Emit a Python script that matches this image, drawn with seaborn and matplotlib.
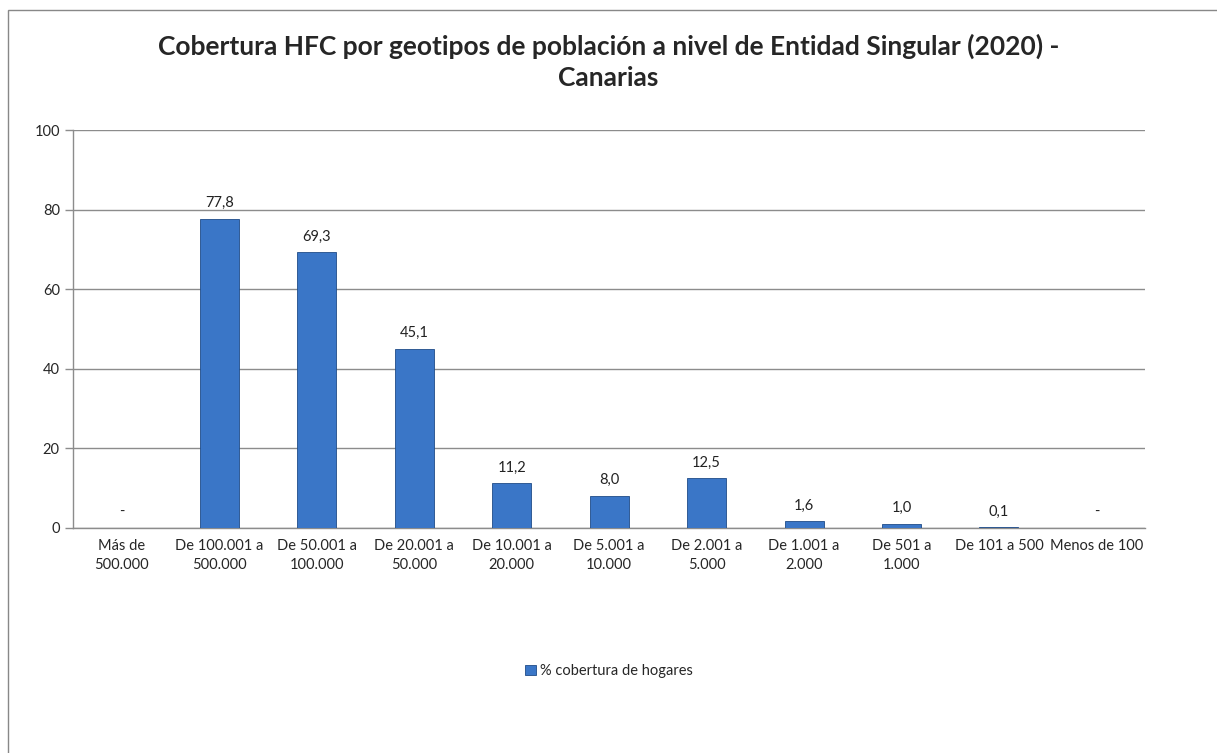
import numpy as np
import pandas as pd
import matplotlib
matplotlib.use("Agg")
import matplotlib.pyplot as plt
from matplotlib.patches import Rectangle
import seaborn as sns

categories = ["Más de\n500.000", "De 100.001 a\n500.000", "De 50.001 a\n100.000",
              "De 20.001 a\n50.000", "De 10.001 a\n20.000", "De 5.001 a\n10.000",
              "De 2.001 a\n5.000", "De 1.001 a\n2.000", "De 501 a\n1.000",
              "De 101 a 500", "Menos de 100"]
cobertura = [0.0, 77.8, 69.3, 45.1, 11.2, 8.0, 12.5, 1.6, 1.0, 0.1, 0.0]
series_name = "% cobertura de hogares"
title = "Cobertura HFC por geotipos de población a nivel de Entidad Singular (2020) -\nCanarias"

sns.set_style("white")
plt.rcParams["font.family"] = ["Lato", "DejaVu Sans"]

df = pd.DataFrame({"geotipo": categories, "valor": cobertura})

fig = plt.figure(figsize=(12.17, 7.53), dpi=100)
ax = fig.add_axes([0.060, 0.299, 0.881, 0.528])

sns.barplot(data=df, x="geotipo", y="valor", color="#3A76C7", width=0.4,
            edgecolor="#1F4C88", linewidth=0.6, saturation=1, ax=ax,
            label=series_name, zorder=3)

# data labels, "-" for zero
for i, v in enumerate(cobertura):
    txt = "-" if v == 0 else f"{v:.1f}".replace(".", ",")
    ax.text(i, v + 2.2, txt, ha="center", va="bottom", fontsize=10.5, color="#222222")

ax.set_ylim(0, 100)
ax.set_yticks(range(0, 101, 20))
ax.set_xlim(-0.5, len(categories) - 0.5)
ax.yaxis.grid(True, color="#8c8c8c", linewidth=1, zorder=0)
ax.set_axisbelow(True)
ax.set_xlabel("")
ax.set_ylabel("")

for s in ["top", "right"]:
    ax.spines[s].set_visible(False)
for s in ["left", "bottom"]:
    ax.spines[s].set_color("#8c8c8c")
    ax.spines[s].set_linewidth(1)

# category boundary ticks
ax.set_xticks(np.arange(-0.5, len(categories), 1), minor=True)
ax.tick_params(axis="x", which="minor", length=6, color="#8c8c8c", width=1)
ax.tick_params(axis="x", which="major", length=0, labelsize=10.5, pad=8)
ax.tick_params(axis="y", length=6, color="#8c8c8c", width=1, labelsize=10.5, left=True)
ax.set_xticklabels(categories, linespacing=1.5)

fig.suptitle(title, fontsize=19, fontweight="bold", y=0.955, linespacing=1.35)

leg = ax.legend(loc="center", bbox_to_anchor=(0.5, -0.36), frameon=False,
                fontsize=10.5, handlelength=0.7, handleheight=0.7, handletextpad=0.3)

fig.patches.append(Rectangle((8 / 1217, -0.01), 1.0, 1.0 - 10 / 753 + 0.01,
                             transform=fig.transFigure, fill=False,
                             edgecolor="#888888", linewidth=1))

fig.savefig("out.png", dpi=100, facecolor="white")
